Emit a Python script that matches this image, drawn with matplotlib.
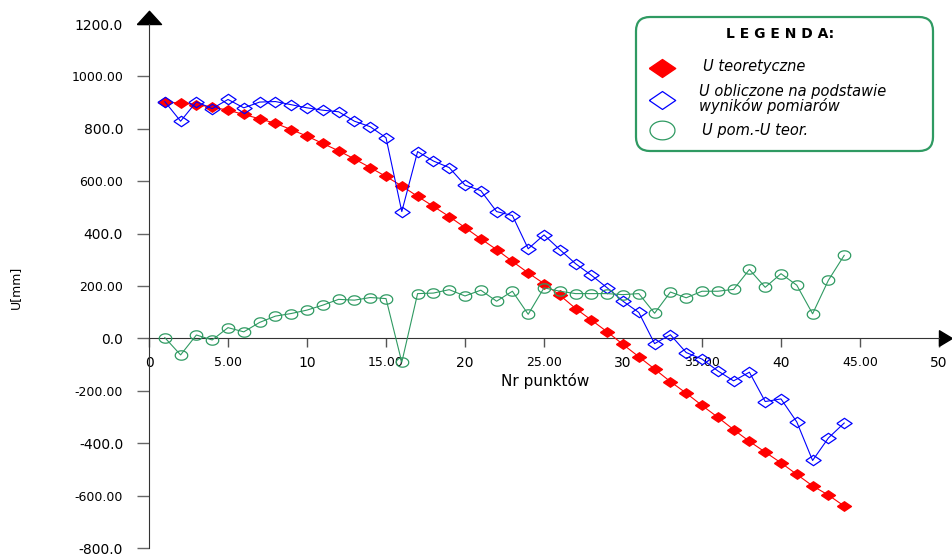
import numpy as np
import matplotlib.pyplot as plt
from matplotlib.lines import Line2D
from matplotlib.patches import FancyBboxPatch
from matplotlib.transforms import IdentityTransform

# dane
nr = np.arange(1, 45)
u_teor = [901, 899, 892, 883, 871, 855, 838, 821, 797, 772, 744, 716, 685, 652, 618,
          582, 542, 504, 465, 423, 380, 339, 294, 250, 209, 165, 114, 70, 25, -23,
          -70, -117, -165, -209, -256, -301, -348, -393, -434, -475, -519, -563, -598, -640]
u_obl = [904, 829, 903, 877, 912, 880, 902, 904, 892, 880, 871, 865, 829, 808, 766,
         484, 713, 677, 652, 585, 564, 484, 469, 342, 395, 339, 285, 241, 193, 142,
         99, -20, 14, -54, -79, -124, -162, -129, -241, -231, -319, -466, -380, -323]
u_roz = [3, -63, 13, -6, 41, 25, 61, 85, 95, 108, 127, 149, 146, 156, 152,
         -91, 171, 173, 186, 162, 184, 142, 180, 92, 193, 180, 171, 171, 171, 167,
         171, 96, 177, 155, 180, 180, 187, 263, 195, 247, 203, 94, 222, 317]

x_ticks = [0, 5, 10, 15, 20, 25, 30, 35, 40, 45, 50]
x_labels = ['0', '5.00', '10', '15.00', '20', '25.00', '30', '35.00', '40', '45.00', '50']
y_ticks = [-800, -600, -400, -200, 0, 200, 400, 600, 800, 1000, 1200]
y_labels = ['-800.0', '-600.00', '-400.0', '-200.00', '0.0', '200.00',
            '400.0', '600.00', '800.0', '1000.00', '1200.0']

W, H = 952, 557
red = '#ff0000'
blue = '#0000ff'
green = '#2f9a62'

fig = plt.figure(figsize=(W / 100, H / 100), dpi=100)
ax = fig.add_axes([149 / W, 9 / H, 790 / W, 524 / H])

diamond = [(-1, 0), (0, 0.68), (1, 0), (0, -0.68), (-1, 0)]
t = np.linspace(0, 2 * np.pi, 41)
ellipse = list(zip(np.cos(t), 0.75 * np.sin(t)))

ax.plot(nr, u_teor, color=red, lw=0.8, marker=diamond, ms=10, mfc=red, mec=red, zorder=3)
ax.plot(nr, u_obl, color=blue, lw=0.8, marker=diamond, ms=11, mfc='none', mec=blue,
        mew=0.9, zorder=4)
ax.plot(nr, u_roz, color=green, lw=0.8, marker=ellipse, ms=9, mfc='none', mec=green,
        mew=0.9, zorder=5)

ax.set_xlim(0, 50)
ax.set_ylim(-800, 1200)
ax.spines['top'].set_visible(False)
ax.spines['right'].set_visible(False)
ax.spines['bottom'].set_position(('data', 0))
ax.spines['bottom'].set_color('#333333')
ax.spines['left'].set_color('#333333')

# strzalki na koncach osi
arrow_up = [(-1, 0), (1, 0), (0, 1.1), (-1, 0)]
arrow_right = [(0, -0.6), (1, 0), (0, 0.6), (0, -0.6)]
ax.plot(0, 1, marker=arrow_up, ms=19, color='black', transform=ax.transAxes, clip_on=False)
ax.plot(1, 0, marker=arrow_right, ms=18.5, color='black',
        transform=ax.get_yaxis_transform(), clip_on=False)

ax.set_xticks(x_ticks)
xt = ax.set_xticklabels(x_labels)
ax.set_yticks(y_ticks)
yt = ax.set_yticklabels(y_labels)
for lbl, txt in zip(xt + yt, x_labels + y_labels):
    lbl.set_fontsize(9 if txt.endswith('.00') else 10)
ax.tick_params(axis='y', direction='out', length=8.6, width=1, color='#666666', pad=10)
ax.tick_params(axis='x', direction='out', length=6.5, width=1, color='#555555', pad=6)

fig.text(545 / W, 1 - 381 / H, 'Nr punktów', ha='center', va='center', fontsize=11)
fig.text(15 / W, 1 - 287 / H, 'U[mm]', ha='center', va='center', fontsize=9, rotation=90)

# legenda
px = IdentityTransform()
box = FancyBboxPatch((636, H - 151), 297, 134, boxstyle='round,pad=0,rounding_size=14',
                     transform=px, fc='white', ec=green, lw=1.6, zorder=10)
fig.add_artist(box)
fig.text(780, H - 34, 'L E G E N D A:', transform=px, ha='center', va='center',
         fontsize=10, fontweight='bold', zorder=11)
fig.add_artist(Line2D([662], [H - 68], marker=diamond, ms=19, mfc=red, mec=red, ls='none',
                      transform=px, zorder=11))
fig.add_artist(Line2D([662], [H - 100], marker=diamond, ms=19, mfc='none', mec=blue, mew=0.9,
                      ls='none', transform=px, zorder=11))
fig.add_artist(Line2D([662], [H - 130], marker=ellipse, ms=18, mfc='none', mec=green, mew=0.9,
                      ls='none', transform=px, zorder=11))
fig.text(703, H - 66, 'U teoretyczne', transform=px, va='center', fontsize=10.5,
         style='italic', zorder=11)
fig.text(699, H - 99, 'U obliczone na podstawie\nwyników pomiarów', transform=px,
         va='center', fontsize=10.5, style='italic', linespacing=0.95, zorder=11)
fig.text(702, H - 130, 'U pom.-U teor.', transform=px, va='center', fontsize=10.5,
         style='italic', zorder=11)

fig.savefig('out.png', dpi=100)
